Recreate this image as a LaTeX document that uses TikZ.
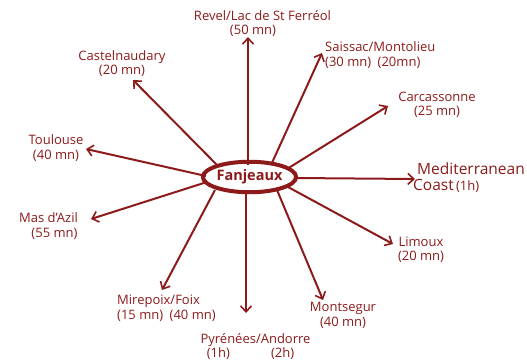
\documentclass[tikz,border=0pt]{standalone}
\usepackage{fontspec}
\setmainfont{Open Sans}
\usetikzlibrary{arrows.meta,shapes.geometric,backgrounds}
\definecolor{dred}{RGB}{140,26,26}
\begin{document}
\begin{tikzpicture}[x=1pt,y=-1pt,
  arr/.style={draw=dred,line width=2pt,-{Straight Barb[length=6pt,width=11pt,line width=1.6pt]}},
  lbl/.style={text=dred,font=\fontsize{13}{14.5}\selectfont,align=center,inner sep=0pt},
  hub/.style={draw=dred,line width=4pt,ellipse,minimum width=91pt,minimum height=30.5pt,text=dred,font=\fontsize{14.5}{16}\selectfont\bfseries,inner sep=0pt}]
\useasboundingbox (0,0) rectangle (527,361);
\node[hub] (f) at (249.5,177) {Fanjeaux};
% end coordinates
\coordinate (tRevel) at (248,37);
\coordinate (tCast) at (133,80);
\coordinate (tToul) at (86,149);
\coordinate (tSais) at (322,53);
\coordinate (tCarc) at (388,106);
\coordinate (tMed) at (415,179);
\coordinate (tMas) at (91,219);
\coordinate (tMire) at (162,290);
\coordinate (tPyr) at (246,313);
\coordinate (tMont) at (323,300);
\coordinate (tLim) at (393,244);
% start coordinates on ellipse
\coordinate (sRevel) at (248,165);
\coordinate (sCast) at (218,166);
\coordinate (sToul) at (206,176);
\coordinate (sSais) at (271,165);
\coordinate (sCarc) at (287,169);
\coordinate (sMed) at (295,178);
\coordinate (sMas) at (207,182);
\coordinate (sMire) at (215,190);
\coordinate (sPyr) at (246,190);
\coordinate (sMont) at (277,190);
\coordinate (sLim) at (288,187);
\begin{scope}[on background layer]
\foreach \n in {Revel,Cast,Toul,Sais,Carc,Med,Mas,Mire,Pyr,Mont,Lim}
  \draw[arr] (s\n) -- (t\n);
\end{scope}
% labels
\node[lbl] (lRevel) at (262.5,23.5) {Revel/Lac de St Ferréol\\\hspace*{-19pt}(50 mn)};
\node[lbl] (lCast) at (122,63.5) {Castelnaudary\\(20 mn)};
\node[lbl] (lToul) at (56,148) {Toulouse\\(40 mn)};
\node[lbl,align=left,anchor=west] (lSais) at (325,55) {Saissac/Montolieu\\(30 mn)\enspace (20mn)};
\node[lbl] (lCarc) at (437,105) {Carcassonne\\(25 mn)};
\node[lbl,align=left,anchor=west] (lMed) at (413,177.5) {{\fontsize{15.5}{17}\selectfont\hspace*{4pt}Mediterranean}\\[1pt]{\fontsize{15.5}{17}\selectfont Coast}\,(1h)};
\node[lbl] (lMas) at (48.5,226) {Mas d'Azil\\\hspace*{12pt}(55 mn)};
\node[lbl,align=left,anchor=west] (lMire) at (117,308.5) {Mirepoix/Foix\\(15 mn)\enspace (40 mn)};
\node[lbl] (lPyr) at (255.5,346.5) {Pyrénées/Andorre\\\hspace*{-10pt}(1h)\hspace{41pt}(2h)};
\node[lbl] (lMont) at (343,315.5) {Montsegur\\(40 mn)};
\node[lbl] (lLim) at (421,250) {Limoux\\(20 mn)};
\end{tikzpicture}
\end{document}
